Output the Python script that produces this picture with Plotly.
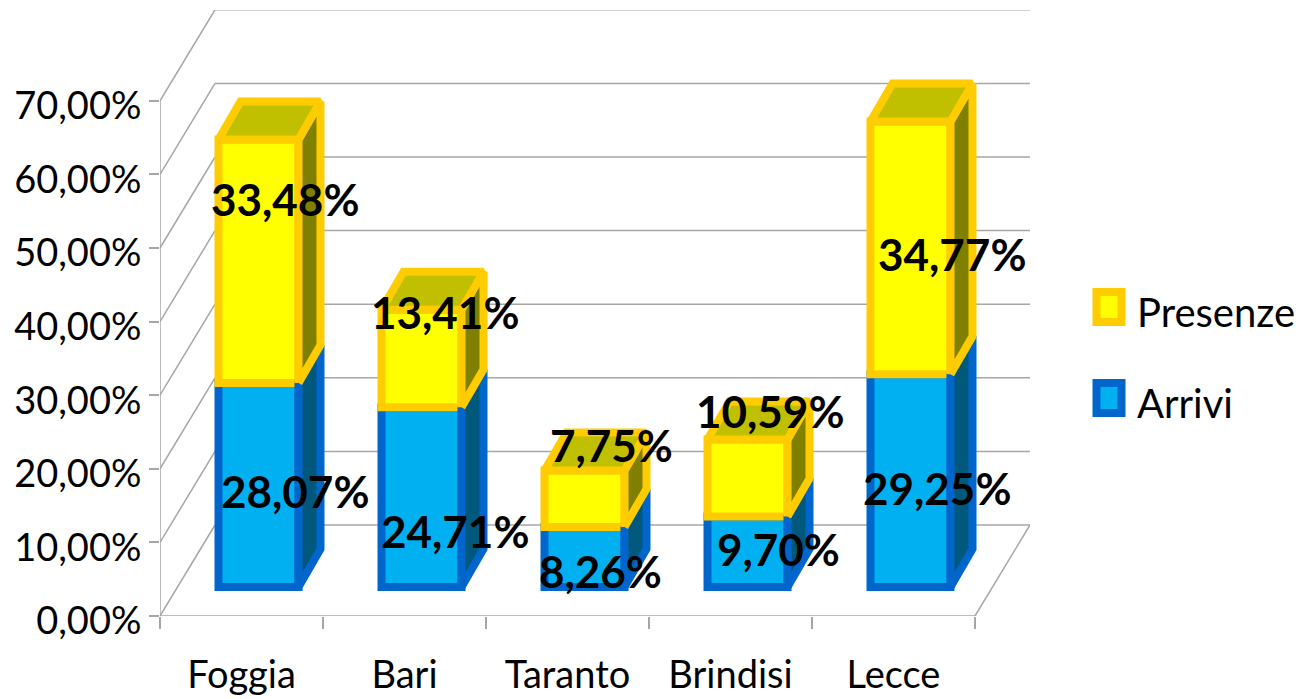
import plotly.graph_objects as go

# ---- data -------------------------------------------------------------
categories = ["Foggia", "Bari", "Taranto", "Brindisi", "Lecce"]
arrivi = [28.07, 24.71, 8.26, 9.70, 29.25]
presenze = [33.48, 13.41, 7.75, 10.59, 34.77]
y_ticks = [0, 10, 20, 30, 40, 50, 60, 70]

# ---- layout constants ---------------------------------------------------
W, H = 1314, 699
L, R, T, B = 160, 1030, 10, 616
PX_X, PX_Y = 163.0, 7.36       # scale on the front plane of the chart box
BAR_PX_Y = 7.27                # bars stand further back, so their scale is a little smaller
BAR_ZERO_PX = 29               # and their foot is raised above the front edge
FONT = "Lato"
GRID = "#a6a6a6"
WALL_DX, WALL_DY = 55 / PX_X, 91 / PX_Y        # depth of the chart box
BOX_DX, BOX_DY = 22 / PX_X, 38 / BAR_PX_Y      # depth of each bar
BAR_SHIFT = 17 / PX_X
BAR_W = 80 / PX_X
STROKE = 8
# label offsets from the centre of the front face, px (right, down)
arrivi_off = [(36, 6), (33, 34), (16, 14), (31, -3), (26, 7)]
presenze_off = [(26, -62), (23, -47), (27, -54), (22, -67), (41, 6)]

xs = list(range(len(categories)))
x0 = -0.5
x_end = x0 + len(categories)
fig = go.Figure()


def pct(v):
    return f"{v:.2f}".replace(".", ",") + "%"


def box_faces(lows, highs, fill_side, fill_top, stroke):
    for i, (lo, hi) in enumerate(zip(lows, highs)):
        xl = i + BAR_SHIFT - BAR_W / 2
        xr = i + BAR_SHIFT + BAR_W / 2
        fig.add_trace(go.Scatter(
            x=[xr, xr + BOX_DX, xr + BOX_DX, xr, xr],
            y=[lo, lo + BOX_DY, hi + BOX_DY, hi, lo], yaxis="y2",
            mode="lines", fill="toself", fillcolor=fill_side,
            line=dict(color=stroke, width=STROKE), showlegend=False, hoverinfo="skip"))
        if fill_top:
            fig.add_trace(go.Scatter(
                x=[xl, xl + BOX_DX, xr + BOX_DX, xr, xl],
                y=[hi, hi + BOX_DY, hi + BOX_DY, hi, hi], yaxis="y2",
                mode="lines", fill="toself", fillcolor=fill_top,
                line=dict(color=stroke, width=STROKE), showlegend=False, hoverinfo="skip"))


base_a = [0] * len(xs)
top_a = [b + v for b, v in zip(base_a, arrivi)]
top_p = [b + v for b, v in zip(top_a, presenze)]

fig.add_trace(go.Bar(x=xs, y=arrivi, base=base_a, name="Arrivi", width=BAR_W, yaxis="y2",
                     offset=BAR_SHIFT - BAR_W / 2,
                     marker=dict(color="#00b0f0", line=dict(color="#0066cc", width=STROKE)),
                     showlegend=False))
fig.add_trace(go.Bar(x=xs, y=presenze, base=top_a, name="Presenze", width=BAR_W, yaxis="y2",
                     offset=BAR_SHIFT - BAR_W / 2,
                     marker=dict(color="#ffff00", line=dict(color="#ffcc00", width=STROKE)),
                     showlegend=False))
box_faces(base_a, top_a, "#00587c", None, "#0066cc")
box_faces(top_a, top_p, "#808000", "#c0c000", "#ffcc00")

# ---- chart box: walls and gridlines, under the bars ----------------------
shapes = []


def seg(xa, ya, xb, yb, color=GRID, width=1.5):
    shapes.append(dict(type="line", layer="below", xref="x", yref="y",
                       x0=xa, y0=ya, x1=xb, y1=yb, line=dict(color=color, width=width)))


for t in y_ticks:
    seg(x0, t, x0 + WALL_DX, t + WALL_DY)
    seg(x0 + WALL_DX, t + WALL_DY, x_end + WALL_DX, t + WALL_DY)
seg(x0, 0, x0, y_ticks[-1])
seg(x0, 0, x_end, 0)
seg(x_end, 0, x_end + WALL_DX, WALL_DY)

# ---- legend drawn to the reference's swatch size ------------------------
def px(xp):
    return (xp - L) / (R - L)


def py(yp):
    return (B - yp) / (B - T)


annotations = []
for label, fill, line, ytop, ytext, xtext in [
    ("Presenze", "#ffff00", "#ffcc00", 292, 312, 1135),
    ("Arrivi", "#00b0f0", "#0066cc", 383, 403, 1135),
]:
    shapes.append(dict(type="rect", xref="paper", yref="paper",
                       x0=px(1096.5), x1=px(1121.5), y0=py(ytop), y1=py(ytop + 30),
                       fillcolor=fill, line=dict(color=line, width=STROKE)))
    annotations.append(dict(xref="paper", yref="paper", x=px(xtext), y=py(ytext),
                            text=label, showarrow=False, xanchor="left", yanchor="middle",
                            font=dict(family=FONT, size=40, color="#000000")))


def value_labels(values, lows, offsets):
    for i, (v, lo, (dx, dy)) in enumerate(zip(values, lows, offsets)):
        annotations.append(dict(x=i + BAR_SHIFT, y=lo + v / 2, xref="x", yref="y2",
                                text=f"<b>{pct(v)}</b>", showarrow=False,
                                xshift=dx, yshift=-dy,
                                font=dict(family=FONT, size=44, color="#000000")))


value_labels(arrivi, base_a, arrivi_off)
value_labels(presenze, top_a, presenze_off)

fig.update_layout(
    width=W, height=H,
    margin=dict(l=L, r=W - R, t=T, b=H - B, pad=0),
    paper_bgcolor="#ffffff", plot_bgcolor="rgba(0,0,0,0)",
    barmode="overlay", showlegend=False, separators=",.",
    font=dict(family=FONT, size=38, color="#000000"),
    shapes=shapes, annotations=annotations,
    xaxis=dict(range=[x0, x0 + (R - L) / PX_X], tickmode="array", tickvals=xs,
               ticktext=categories, ticks="outside", ticklen=25, automargin=False,
               tickcolor="rgba(0,0,0,0)", showgrid=False, zeroline=False, showline=False,
               tickfont=dict(family=FONT, size=38),
               minor=dict(tickmode="array", ticks="outside", ticklen=12, tickwidth=1.5,
                          tickcolor=GRID, showgrid=False,
                          tickvals=[x0 + k for k in range(len(categories) + 1)])),
    yaxis=dict(range=[0, (B - T) / PX_Y], tickmode="array", tickvals=y_ticks,
               ticktext=[pct(t) for t in y_ticks], automargin=False,
               ticks="outside", ticklen=10, ticklabelshift=5,
               tickwidth=1.5, tickcolor=GRID, showgrid=False, zeroline=False,
               showline=False, tickfont=dict(family=FONT, size=38)),
    yaxis2=dict(overlaying="y", visible=False, automargin=False,
                range=[-BAR_ZERO_PX / BAR_PX_Y, (B - T - BAR_ZERO_PX) / BAR_PX_Y]),
)

fig.write_html("out.html", config=dict(displayModeBar=False),
               post_script="document.body.style.margin='0';document.body.style.overflow='hidden';")
